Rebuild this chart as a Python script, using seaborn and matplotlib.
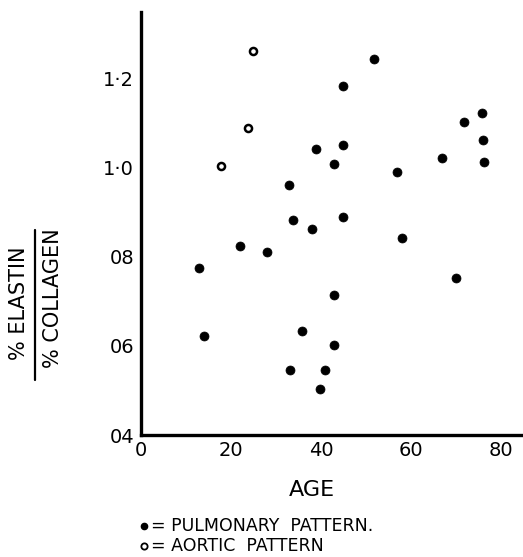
import matplotlib
matplotlib.use("Agg")
import matplotlib.pyplot as plt
import seaborn as sns
import pandas as pd

# Elastin/collagen ratio by age, pulmonary-type arteries (filled)
age_pulmonary = [12.9, 13.9, 21.9, 27.9, 32.8, 33.8, 38.0, 38.9, 42.9, 44.9,
                 44.9, 44.9, 51.8, 56.8, 58.1, 66.8, 70.0, 71.8, 75.8, 76.0,
                 76.3, 42.9, 35.7, 42.9, 33.1, 40.9, 39.8]
ratio_pulmonary = [0.775, 0.623, 0.823, 0.810, 0.960, 0.881, 0.861, 1.041, 1.007, 1.050,
                   1.182, 0.889, 1.242, 0.990, 0.842, 1.020, 0.752, 1.101, 1.122, 1.062,
                   1.011, 0.714, 0.633, 0.602, 0.545, 0.545, 0.502]

# Aortic-type pattern (open circles)
age_aortic = [25.0, 23.8, 17.7]
ratio_aortic = [1.260, 1.089, 1.002]

x_ticks = [0, 20, 40, 60, 80]
x_tick_labels = ["0", "20", "40", "60", "80"]
y_ticks = [0.4, 0.6, 0.8, 1.0, 1.2]
y_tick_labels = ["04", "06", "08", "1·0", "1·2"]

df_pulm = pd.DataFrame({"age": age_pulmonary, "ratio": ratio_pulmonary})
df_aort = pd.DataFrame({"age": age_aortic, "ratio": ratio_aortic})

sns.set_theme(style="white")
plt.rcParams["font.family"] = ["DejaVu Sans"]
plt.rcParams["text.color"] = "black"
plt.rcParams["xtick.color"] = "black"
plt.rcParams["ytick.color"] = "black"
plt.rcParams["axes.labelcolor"] = "black"

fig = plt.figure(figsize=(5.23, 5.57), dpi=100)
ax = fig.add_axes([0.2696, 0.219, 0.7304, 0.7595])

sns.scatterplot(data=df_pulm, x="age", y="ratio", ax=ax, marker="o", s=42,
                color="black", edgecolor="black", linewidth=0.5)
sns.scatterplot(data=df_aort, x="age", y="ratio", ax=ax, marker="o", s=26,
                facecolor="white", edgecolor="black", linewidth=1.8)

ax.set_xlim(0, 84.9)
ax.set_ylim(0.4, 1.348)

ax.set_xticks(x_ticks)
ax.set_xticklabels(x_tick_labels, fontsize=14)
ax.set_yticks(y_ticks)
ax.set_yticklabels(y_tick_labels, fontsize=14)
ax.tick_params(axis="y", direction="out", length=4, width=2.2, pad=1,
               color="black", labelcolor="black")
ax.tick_params(axis="x", direction="out", length=3, width=2.2, pad=1,
               color="black", labelcolor="black")

for side in ("top", "right"):
    ax.spines[side].set_visible(False)
for side in ("left", "bottom"):
    ax.spines[side].set_linewidth(2.4)
    ax.spines[side].set_color("black")

ax.set_xlabel("")
ax.set_ylabel("")

# Axis titles
fig.text(0.597, 0.120, "AGE", fontsize=16, ha="center", va="center", color="black")
fig.text(0.036, 0.455, "% ELASTIN", fontsize=15, rotation=90, ha="center", va="center",
         color="black")
fig.text(0.101, 0.465, "% COLLAGEN", fontsize=15, rotation=90, ha="center", va="center",
         color="black")
fig.add_artist(plt.Line2D([0.067, 0.067], [0.318, 0.587], color="black", lw=1.6))

# Key
key_y = [0.055, 0.019]
fig.add_artist(plt.Line2D([0.276], [key_y[0]], marker="o", ms=4.5, color="black",
                          linestyle="none", transform=fig.transFigure))
fig.add_artist(plt.Line2D([0.276], [key_y[1]], marker="o", ms=4.5, mfc="white",
                          mec="black", mew=1.3, linestyle="none",
                          transform=fig.transFigure))
fig.text(0.289, key_y[0], "= PULMONARY  PATTERN.", fontsize=12.5, ha="left",
         va="center", color="black")
fig.text(0.289, key_y[1], "= AORTIC  PATTERN", fontsize=12.5, ha="left",
         va="center", color="black")

fig.savefig("out.png", dpi=100)
